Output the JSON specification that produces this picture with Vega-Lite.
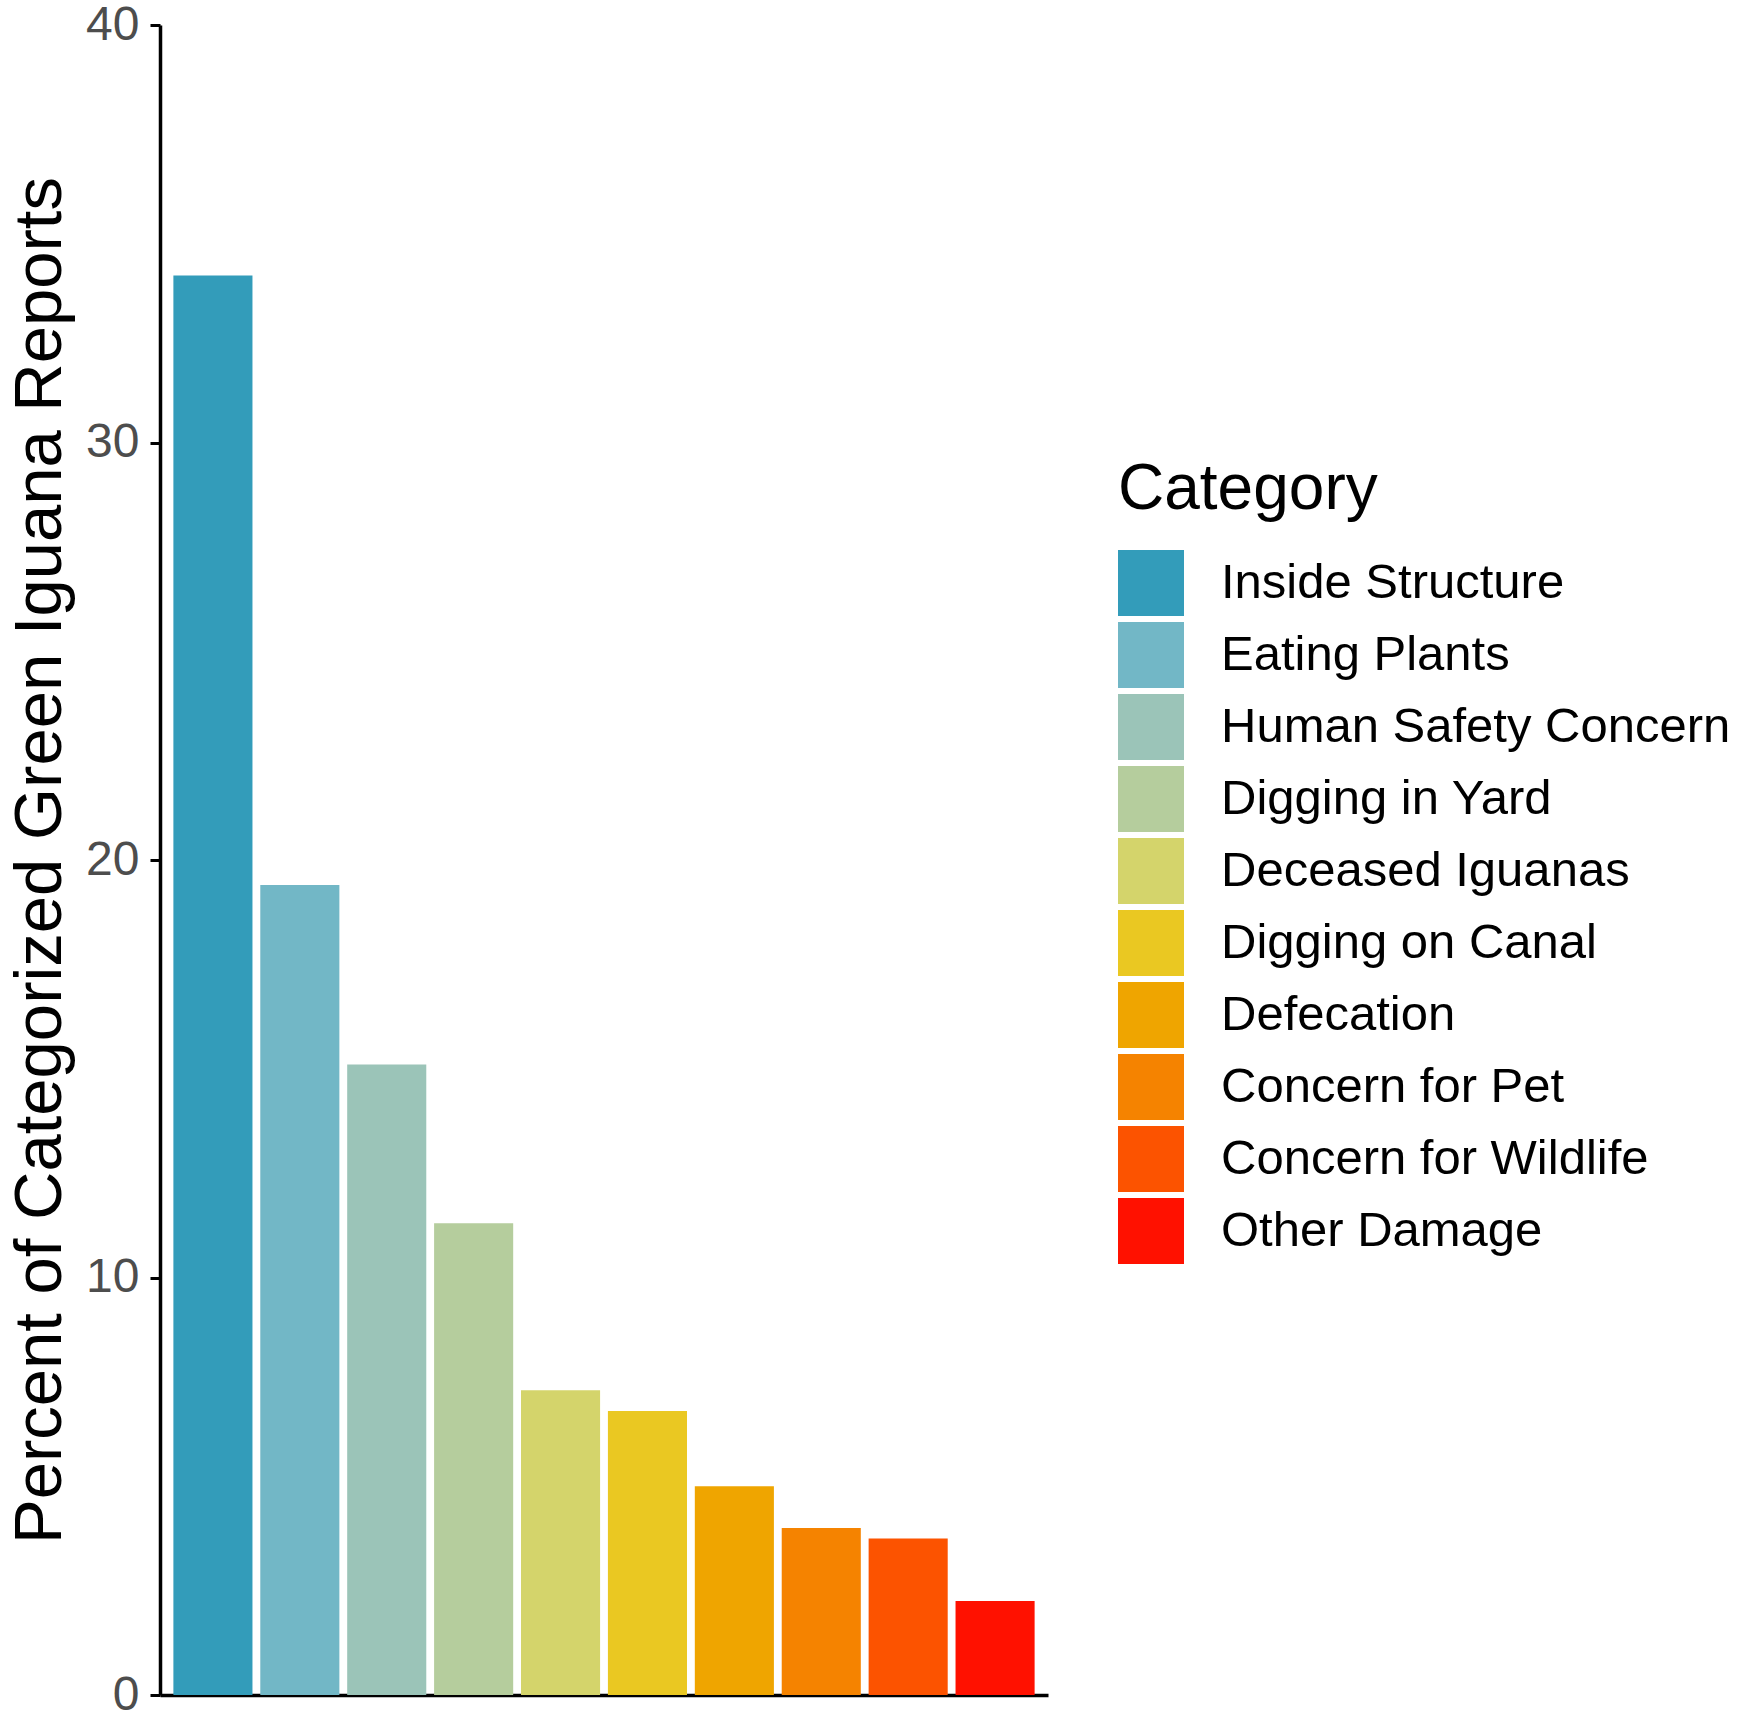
{
  "$schema": "https://vega.github.io/schema/vega-lite/v6.json",
  "width": 888,
  "height": 1670,
  "autosize": {"type": "none"},
  "padding": {"left": 160, "top": 25, "right": 702, "bottom": 23},
  "background": "white",
  "data": {
    "values": [
      {"Category": "Inside Structure", "Percent": 34.0},
      {"Category": "Eating Plants", "Percent": 19.4},
      {"Category": "Human Safety Concern", "Percent": 15.1},
      {"Category": "Digging in Yard", "Percent": 11.3},
      {"Category": "Deceased Iguanas", "Percent": 7.3},
      {"Category": "Digging on Canal", "Percent": 6.8},
      {"Category": "Defecation", "Percent": 5.0},
      {"Category": "Concern for Pet", "Percent": 4.0},
      {"Category": "Concern for Wildlife", "Percent": 3.75},
      {"Category": "Other Damage", "Percent": 2.25}
    ]
  },
  "mark": {"type": "bar", "opacity": 1},
  "encoding": {
    "x": {
      "field": "Category", "type": "nominal", "sort": null,
      "scale": {"paddingInner": 0.09, "paddingOuter": 0.154},
      "axis": {
        "title": null, "labels": false, "ticks": false,
        "domainColor": "black", "domainWidth": 3.5
      }
    },
    "y": {
      "field": "Percent", "type": "quantitative",
      "scale": {"domain": [0, 40], "nice": false},
      "axis": {
        "title": "Percent of Categorized Green Iguana Reports",
        "values": [0, 10, 20, 30, 40],
        "grid": false,
        "domainColor": "black", "domainWidth": 3.5,
        "tickColor": "black", "tickWidth": 3, "tickSize": 10,
        "labelFont": "Liberation Sans", "labelFontSize": 48,
        "labelColor": "#4d4d4d", "labelPadding": 11,
        "labelBaseline": "middle",
        "titleFont": "Liberation Sans", "titleFontSize": 67,
        "titleFontWeight": "normal", "titleColor": "black",
        "titleAngle": -90, "titleAlign": "center",
        "titleBaseline": "alphabetic",
        "titleX": -100, "titleY": 835,
        "titleLimit": 2000
      }
    },
    "color": {
      "field": "Category", "type": "nominal", "sort": null,
      "scale": {
        "domain": ["Inside Structure", "Eating Plants", "Human Safety Concern", "Digging in Yard", "Deceased Iguanas", "Digging on Canal", "Defecation", "Concern for Pet", "Concern for Wildlife", "Other Damage"],
        "range": ["#339CBA", "#72B7C6", "#9BC4B8", "#B5CD9D", "#D4D46B", "#EAC822", "#EFA500", "#F58300", "#FC5300", "#FF1100"]
      },
      "legend": {
        "orient": "none", "legendX": 958, "legendY": 433,
        "padding": 0,
        "title": "Category",
        "titleFont": "Liberation Sans", "titleFontSize": 64,
        "titleFontWeight": "normal", "titleColor": "black",
        "titlePadding": 28, "titleLimit": 800,
        "symbolType": "square", "symbolSize": 4356,
        "symbolStrokeWidth": 0, "symbolOpacity": 1,
        "rowPadding": 6,
        "labelFont": "Liberation Sans", "labelFontSize": 49,
        "labelColor": "black", "labelOffset": 37,
        "labelLimit": 800
      }
    }
  },
  "config": {"view": {"stroke": null}}
}
